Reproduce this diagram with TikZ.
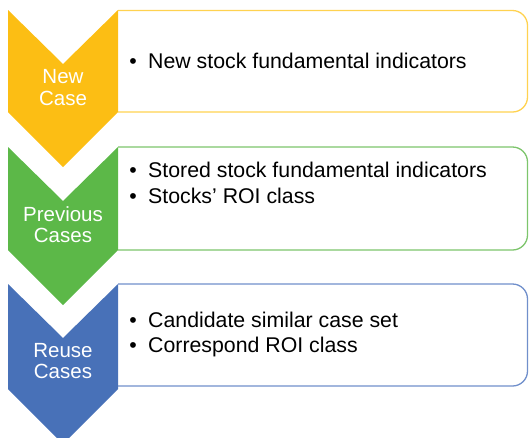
\documentclass[tikz,border=0pt]{standalone}
\usepackage{fontspec}
\setmainfont{Liberation Sans}
\definecolor{cyel}{RGB}{252,190,20}
\definecolor{cgrn}{RGB}{92,184,72}
\definecolor{cblu}{RGB}{72,113,184}
\definecolor{lyel}{RGB}{255,210,80}
\definecolor{lgrn}{RGB}{125,197,108}
\definecolor{lblu}{RGB}{112,143,203}
\newcommand\mychev[3]{\fill[#3] (8,#1) -- (63,{#1+54}) -- (118,#1) -- (118,#2) -- (63,{#2+55}) -- (8,#2) -- cycle;}
\newcommand\myrect[3]{\draw[#3, line width=1.3pt, rounded corners=15pt] (118,#1) -- (527.5,#1) -- (527.5,#2) -- (118,#2);}
\begin{document}
\begin{tikzpicture}[x=1pt,y=-1pt,
  chevtext/.style={anchor=base, text=white, inner sep=0pt, font=\fontsize{20.5}{24}\selectfont},
  itemtext/.style={anchor=base west, text=black, inner sep=0pt, font=\fontsize{21.3}{25}\selectfont},
  bullettext/.style={anchor=base, text=black, inner sep=0pt, font=\fontsize{21.3}{25}\selectfont}]
\useasboundingbox (0,0) rectangle (529,437);
\clip (0,0) rectangle (529,437);
% boxes
\myrect{10.5}{112}{lyel}
\myrect{147}{250}{lgrn}
\myrect{284}{386}{lblu}
% chevrons
\mychev{10}{112}{cyel}
\mychev{147}{250}{cgrn}
\mychev{284}{389}{cblu}
% chevron labels
\node[chevtext] (c1a) at (63,83) {New};
\node[chevtext] (c1b) at (63,105) {Case};
\node[chevtext] (c2a) at (63,221) {Previous};
\node[chevtext] (c2b) at (63,242) {Cases};
\node[chevtext] (c3a) at (63,357) {Reuse};
\node[chevtext] (c3b) at (63,378) {Cases};
% items
\node[bullettext] (b1) at (133,68) {•};
\node[itemtext] (t1) at (148,68) {New stock fundamental indicators};
\node[bullettext] (b2) at (133,177) {•};
\node[itemtext] (t2) at (148,177) {Stored stock fundamental indicators};
\node[bullettext] (b3) at (133,203) {•};
\node[itemtext] (t3) at (148,203) {Stocks’ ROI class};
\node[bullettext] (b4) at (133,327) {•};
\node[itemtext] (t4) at (148,327) {Candidate similar case set};
\node[bullettext] (b5) at (133,352) {•};
\node[itemtext] (t5) at (148,352) {Correspond ROI class};
\end{tikzpicture}
\end{document}
